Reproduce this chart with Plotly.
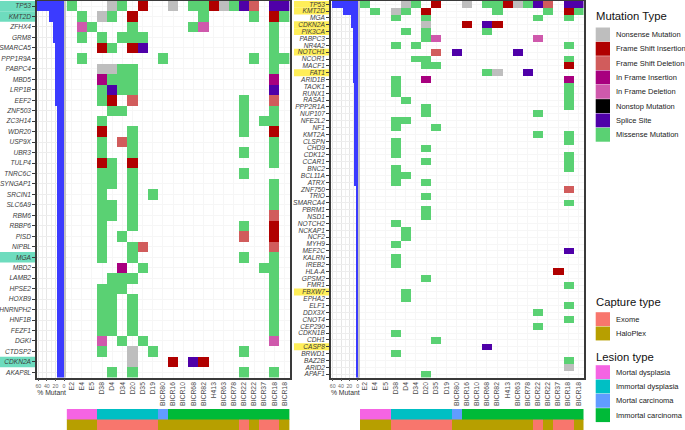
import plotly.graph_objects as go

W, H = 685, 430

SAMPLES = ["E2", "E4", "E5", "D38", "D4", "D34", "D20", "D35", "D19", "BICR80", "BICR16",
           "BICR10", "BICR68", "BICR82", "H413", "BICR63", "BICR78", "BICR22", "BICR22",
           "BICR37", "BICR18", "BICR18"]

# lesion and capture type per sample
LESION = [0, 0, 0, 1, 1, 1, 1, 1, 1, 2, 3, 3, 3, 3, 3, 3, 3, 3, 3, 3, 3, 3]
CAPTURE = [1, 1, 1, 0, 0, 0, 0, 0, 0, 1, 1, 1, 1, 1, 1, 1, 1, 0, 1, 0, 0, 1]

MUTATION_TYPES = ["Nonsense Mutation", "Frame Shift Insertion", "Frame Shift Deletion",
                  "In Frame Insertion", "In Frame Deletion", "Nonstop Mutation", "Splice Site",
                  "Missense Mutation"]
MUTATION_CODES = "NIDFETSM"
MUTATION_COLORS = ["#bebebe", "#b00000", "#d15c5c", "#a8007f", "#cf59ac", "#000000", "#4f00a8", "#5ad173"]

CAPTURE_TYPES = ["Exome", "HaloPlex"]
CAPTURE_COLORS = ["#f8766d", "#b79f00"]
LESION_TYPES = ["Mortal dysplasia", "Immortal dysplasia", "Mortal carcinoma", "Immortal carcinoma"]
LESION_COLORS = ["#f564e3", "#00bfc4", "#619cff", "#00ba38"]

LEFT_GENES = ["TP53", "KMT2D", "ZFHX4", "GRM8", "SMARCA5", "PPP1R9A", "PABPC4", "MBD5", "LRP1B", "EEF2",
              "ZNF503", "ZC3H14", "WDR20", "USP9X", "UBR3", "TULP4", "TNRC6C", "SYNGAP1", "SRCIN1",
              "SLC6A9", "RBM6", "RBBP6", "PISD", "NIPBL", "MGA", "MBD2", "LAMB2", "HPSE2", "HOXB9",
              "HNRNPH2", "HNF1B", "FEZF1", "DGKI", "CTDSP2", "CDKN2A", "AKAP8L"]
LEFT_PERCENT = [63.6, 36.4, 27.3, 27.3, 22.7, 22.7, 22.7, 22.7, 22.7, 22.7, 18.2, 18.2, 18.2, 18.2, 18.2,
                18.2, 18.2, 18.2, 18.2, 18.2, 18.2, 18.2, 18.2, 18.2, 18.2, 18.2, 18.2, 18.2, 18.2, 18.2,
                18.2, 18.2, 18.2, 18.2, 18.2, 18.2]
LEFT_HIGHLIGHT = ["TP53", "KMT2D", "MGA", "CDKN2A"]
# each entry: sample index + mutation code
LEFT_CELLS = [
    "0M 4N 5M 7I 10N 12M 13M 14I 15N 16M 17S 18D 20S 21S",
    "1M 3N 4M 6I 13M 18M 20I 21M",
    "1E 2M 6M 12M 13E 20M",
    "1M 3M 5M 6M 7M 20M",
    "3I 4M 6I 7S 20M",
    "1M 9M 18M 20M 21M",
    "3N 4N 5M 6M 20M",
    "3F 4M 5M 6M 20F",
    "3M 4S 5M 6M 20S",
    "3M 4I 6D 17M 20D",
    "4M 5M 17M 20M",
    "3M 17M 19M 20M",
    "3I 6M 17M 20I",
    "3M 5D 6M 20M",
    "3M 6M 17M 20M",
    "3I 4M 6I 20M",
    "3M 4M 6M 17M",
    "3M 4M 6M 20M",
    "3M 6M 8M 20M",
    "3M 4M 6M 20M",
    "3M 4M 6M 20D",
    "3M 6M 17M 20I",
    "3M 5M 17D 20I",
    "3M 6M 7D 20D",
    "3M 6M 17M 20M",
    "5F 7M 19M 20M",
    "4M 5M 6M 20M",
    "3M 4M 5M 20M",
    "3M 4M 6M 20M",
    "3M 4M 6M 20M",
    "3M 4M 6M 20M",
    "3M 4M 6M 20M",
    "3E 5M 7M 20E",
    "3M 6N 8M 17M",
    "6N 10I 12S 13I",
    "4M 6M 17M 20M",
]

RIGHT_GENES = ["TP53", "KMT2D", "MGA", "CDKN2A", "PIK3CA", "PABPC3", "NR4A2", "NOTCH1", "NCOR1", "MACF1",
               "FAT1", "ARID1B", "TAOK1", "RUNX1", "RASA1", "PPP2R1A", "NUP107", "NFE2L2", "NF1", "KMT2A",
               "CLSPN", "CHD9", "CDK12", "CCAR1", "BNC2", "BCL11A", "ATRX", "ZNF750", "TRIO", "SMARCA4",
               "PBRM1", "NSD1", "NOTCH2", "NCKAP1", "NCF2", "MYH9", "MEF2C", "KALRN", "IREB2", "HLA-A",
               "GPSM2", "FMR1", "FBXW7", "EPHA2", "ELF1", "DDX3X", "CNOT4", "CEP290", "CDKN1B", "CDH1",
               "CASP8", "BRWD1", "BAZ2B", "ARID2", "APAF1"]
RIGHT_PERCENT = [63.6, 36.4, 18.2, 18.2, 13.6, 13.6, 13.6, 13.6, 13.6, 13.6, 13.6, 13.6, 9.1, 9.1, 9.1, 9.1,
                 9.1, 9.1, 9.1, 9.1, 9.1, 9.1, 9.1, 9.1, 9.1, 9.1, 9.1, 4.5, 4.5, 4.5, 4.5, 4.5, 4.5, 4.5,
                 4.5, 4.5, 4.5, 4.5, 4.5, 4.5, 4.5, 4.5, 4.5, 4.5, 4.5, 4.5, 4.5, 4.5, 4.5, 4.5, 4.5, 4.5,
                 4.5, 4.5, 4.5]
RIGHT_HIGHLIGHT = ["TP53", "KMT2D", "CDKN2A", "PIK3CA", "NOTCH1", "FAT1", "FBXW7", "CASP8"]
RIGHT_CELLS = [
    "0M 4N 5M 7I 10N 12M 13M 14I 15N 16M 17S 18D 20S 21S",
    "1M 3N 4M 6I 13M 18M 20I 21M",
    "3M 6M 17M 20M",
    "6N 10I 12S 13I",
    "4M 6M 12M",
    "6M 7E 17E",
    "3M 5M 20M",
    "7D 9S 15S",
    "5M 6M 20M",
    "6M 7M 20I",
    "12M 13N 16S",
    "3M 6F 20F",
    "3M 20M",
    "3M 20M",
    "4M 20M",
    "6M 20M",
    "6M 17M",
    "3M 4M",
    "3M 7M",
    "17M 20M",
    "3M 20M",
    "3M 6M",
    "3M 20M",
    "6M 20M",
    "3M 20M",
    "3M 4M",
    "3M 6M",
    "20D",
    "6M",
    "20M",
    "6M",
    "6M",
    "3M",
    "4M",
    "4M",
    "3M",
    "20S",
    "3M",
    "3M",
    "19I",
    "6M",
    "20M",
    "4M",
    "4M",
    "20M",
    "17M",
    "20M",
    "17M",
    "3M",
    "7M",
    "12S",
    "3M",
    "20M",
    "20N",
    "6M",
]

BAR_TICKS = [60, 40, 20, 0]
BAR_MINOR_TICKS = [50, 30, 10]


def px_x(p):
    return p / W


def px_y(p):
    return 1 - p / H


def cell_matrix(cells):
    z = []
    for row in cells:
        vals = [None] * len(SAMPLES)
        for tok in row.split():
            vals[int(tok[:-1])] = MUTATION_CODES.index(tok[-1])
        z.append(vals)
    return z


def stepped_scale(colors):
    n = len(colors)
    scale = []
    for i, c in enumerate(colors):
        scale += [[i / n, c], [(i + 1) / n, c]]
    return scale


fig = go.Figure()
sample_x = list(range(len(SAMPLES)))

panels = [
    dict(genes=LEFT_GENES, pct=LEFT_PERCENT, cells=LEFT_CELLS, hl=LEFT_HIGHLIGHT, hl_color="#6edcbe",
         hl_px=(0, 36), bar_px=(36.6, 66.6), bar_range=[64.0, -6.07], strip=-4.67, heat_px=(66.6, 289.6),
         ids=("", "2", "5")),
    dict(genes=RIGHT_GENES, pct=RIGHT_PERCENT, cells=RIGHT_CELLS, hl=RIGHT_HIGHLIGHT, hl_color="#ffee58",
         hl_px=(294, 329.6), bar_px=(330.5, 360), bar_range=[65.2, -5.5], strip=-4.8, heat_px=(360, 583.5),
         ids=("3", "4", "6")),
]

layout_axes = {}
shapes = []
for p in panels:
    n = len(p["genes"])
    rows = list(range(n))
    bar_id, heat_id, strip_id = p["ids"]
    y_dom = [px_y(377.6), px_y(0.8)]
    y_range = [n - 0.5, -0.5]

    # percent mutant bars, the grey strip sits just past zero
    fig.add_trace(go.Bar(y=rows, x=p["pct"], orientation="h", width=1, marker=dict(color="#3b3bff", line_width=0),
                         xaxis="x" + bar_id, yaxis="y" + bar_id, showlegend=False))
    fig.add_trace(go.Bar(y=rows, x=[p["strip"]] * n, orientation="h", width=1,
                         marker=dict(color="#c4c4c4", line_width=0),
                         xaxis="x" + bar_id, yaxis="y" + bar_id, showlegend=False, hoverinfo="skip"))
    # mutation matrix
    fig.add_trace(go.Heatmap(z=cell_matrix(p["cells"]), x=sample_x, y=rows, zmin=-0.5, zmax=7.5,
                             colorscale=stepped_scale(MUTATION_COLORS), showscale=False, hoverongaps=False,
                             xaxis="x" + heat_id, yaxis="y" + heat_id))
    # lesion and capture strips
    fig.add_trace(go.Heatmap(z=[[v for v in LESION]], x=sample_x, y=[0], zmin=-0.5, zmax=3.5,
                             colorscale=stepped_scale(LESION_COLORS), showscale=False,
                             xaxis="x" + strip_id, yaxis="y" + strip_id))
    fig.add_trace(go.Heatmap(z=[[v + 4 for v in CAPTURE]], x=sample_x, y=[1], zmin=3.5, zmax=5.5,
                             colorscale=stepped_scale(CAPTURE_COLORS), showscale=False,
                             xaxis="x" + strip_id, yaxis="y" + strip_id))

    frame = dict(showline=True, linecolor="#3a3a3a", linewidth=1.5)
    grid = dict(showgrid=True, gridcolor="#f6f6f6", gridwidth=1, zeroline=False)
    layout_axes["xaxis" + bar_id] = dict(
        domain=[px_x(p["bar_px"][0]), px_x(p["bar_px"][1])], range=p["bar_range"], anchor="y" + bar_id,
        tickvals=BAR_TICKS, ticks="outside", ticklen=2, tickwidth=0.7, tickcolor="#555555",
        tickfont=dict(size=5.2, color="#6a6a6a"), tickangle=0, mirror=True, showgrid=True, gridcolor="#e6e6e6",
        zeroline=False, minor=dict(tickvals=BAR_MINOR_TICKS, showgrid=True, gridcolor="#f0f0f0", ticks=""),
        title=dict(text="% Mutant", font=dict(size=6.8, color="#333333"), standoff=0), **frame)
    layout_axes["yaxis" + bar_id] = dict(
        domain=y_dom, range=y_range, anchor="x" + bar_id, tickvals=rows,
        ticktext=["<i>%s</i>" % g for g in p["genes"]], ticks="outside", ticklen=2.5, tickwidth=0.8,
        tickcolor="#3a3a3a", tickfont=dict(size=6.6, color="#3c3c3c"), showgrid=True, gridcolor="#ededed",
        zeroline=False, **frame)
    layout_axes["xaxis" + heat_id] = dict(
        domain=[px_x(p["heat_px"][0]), px_x(p["heat_px"][1])], range=[-0.5, 21.5], anchor="y" + heat_id,
        tickvals=sample_x, ticktext=SAMPLES, tickangle=-90, ticks="", tickfont=dict(size=6.8, color="#4d4d4d"),
        mirror=True, **grid, **frame)
    layout_axes["yaxis" + heat_id] = dict(
        domain=y_dom, range=y_range, anchor="x" + heat_id, side="right", tickvals=rows, showticklabels=False,
        ticks="", **grid, **frame)
    layout_axes["xaxis" + strip_id] = dict(
        domain=[px_x(p["heat_px"][0]), px_x(p["heat_px"][1])], range=[-0.5, 21.5], anchor="y" + strip_id,
        visible=False)
    layout_axes["yaxis" + strip_id] = dict(
        domain=[0, px_y(409)], range=[1.5, -0.5], anchor="x" + strip_id, visible=False)

    # coloured bands behind the driver gene names
    for g in p["hl"]:
        r = p["genes"].index(g)
        shapes.append(dict(type="rect", xref="paper", yref="y" + bar_id, x0=px_x(p["hl_px"][0]),
                           x1=px_x(p["hl_px"][1]), y0=r - 0.5, y1=r + 0.5, fillcolor=p["hl_color"],
                           line_width=0, layer="below"))

# legends are drawn by hand, ggplot style blocks
annotations = []


def add_legend(title, title_y, labels, colors, first_y):
    annotations.append(dict(text=title, xref="paper", yref="paper", x=px_x(593.7), y=px_y(title_y), showarrow=False,
                            xanchor="left", yanchor="middle", font=dict(size=11.3, color="#111111")))
    for i, (lab, col) in enumerate(zip(labels, colors)):
        top = first_y + i * 14.33
        shapes.append(dict(type="rect", xref="paper", yref="paper", x0=px_x(595.7), x1=px_x(610),
                           y0=px_y(top + 14.1), y1=px_y(top + 0.2), fillcolor=col, line_width=0))
        annotations.append(dict(text=lab, xref="paper", yref="paper", x=px_x(613.8), y=px_y(top + 7.2), showarrow=False,
                                xanchor="left", yanchor="middle", font=dict(size=7.5, color="#222222")))


add_legend("Mutation Type", 16, MUTATION_TYPES, MUTATION_COLORS, 27.3)
add_legend("Capture type", 302, CAPTURE_TYPES, CAPTURE_COLORS, 312)
add_legend("Lesion type", 356.7, LESION_TYPES, LESION_COLORS, 365)

fig.update_layout(
    width=W, height=H, margin=dict(l=0, r=0, t=0, b=0), autosize=False, barmode="overlay", bargap=0,
    plot_bgcolor="white", paper_bgcolor="white", font=dict(family="Liberation Sans"),
    shapes=shapes, annotations=annotations, showlegend=False, **layout_axes
)

# the page default body margin would push the whole figure 8px off
fig.write_html("out.html", config=dict(displayModeBar=False),
               post_script="document.body.style.margin='0';document.body.style.overflow='hidden';")
